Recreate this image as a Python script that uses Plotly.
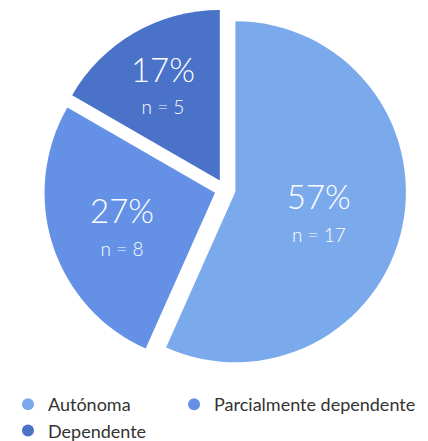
import plotly.graph_objects as go

labels = ["Autónoma", "Parcialmente dependente", "Dependente"]
counts = [17, 8, 5]
colors = ["#7AAAEC", "#6491E6", "#4A72C8"]
pulls = [0.062, 0.062, 0.062]
legend_of = ["legend", "legend2", "legend"]

FONT = "Lato"

fig = go.Figure()
fig.add_trace(go.Pie(
    labels=labels,
    values=counts,
    sort=False,
    direction="clockwise",
    rotation=0,
    pull=pulls,
    marker=dict(colors=colors, line=dict(width=0)),
    texttemplate="<span style='font-size:4px'>\u00a0</span><br>"
                 "<span style='font-size:33px'>%{percent:.0%}</span><br>"
                 "<span style='font-size:19px'>n = %{value}</span>",
    textposition="inside",
    insidetextorientation="horizontal",
    insidetextfont=dict(color="white", size=25, family=FONT, weight=300),
    hoverinfo="label+value+percent",
    showlegend=False,
    domain=dict(x=[0.0687, 0.9457], y=[0.0407, 0.9987]),
))

for lab, col, lg in zip(labels, colors, legend_of):
    fig.add_trace(go.Scatter(
        x=[None], y=[None], mode="markers", name=lab,
        marker=dict(symbol="circle", size=17, color=col),
        showlegend=True, legend=lg,
    ))

legend_font = dict(size=18, family=FONT, color="#333333")
fig.update_layout(
    width=428, height=441,
    margin=dict(l=0, r=0, t=0, b=60),
    paper_bgcolor="white",
    plot_bgcolor="white",
    font=dict(family=FONT, color="#333333"),
    xaxis=dict(visible=False),
    yaxis=dict(visible=False),
    legend=dict(
        orientation="v",
        x=0, xanchor="left",
        y=0, yanchor="top",
        font=legend_font,
        itemsizing="constant",
        tracegroupgap=0,
    ),
    legend2=dict(
        orientation="v",
        x=0.388, xanchor="left",
        y=0, yanchor="top",
        font=legend_font,
        itemsizing="constant",
    ),
)

fig.write_html("out.html")
